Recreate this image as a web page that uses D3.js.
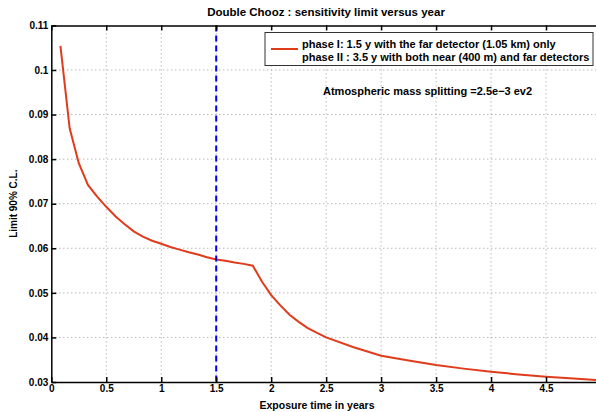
<!DOCTYPE html>
<html lang="en">
<head>
<meta charset="UTF-8">
<title>Double Chooz sensitivity</title>
<script src="https://cdn.jsdelivr.net/npm/d3@7/dist/d3.min.js"></script>
<style>
  body { margin: 0; background: #fff; }
  svg { display: block; font-family: "Liberation Sans", Arial, sans-serif; }
</style>
</head>
<body>
<svg width="596" height="412" id="mainsvg"></svg>
<script>
// values
const years = [0.083, 0.167, 0.25, 0.333, 0.417, 0.5, 0.583, 0.667, 0.75, 0.833, 0.917, 1.0,
  1.083, 1.167, 1.25, 1.333, 1.417, 1.5, 1.583, 1.667, 1.75, 1.833,
  1.917, 2.0, 2.083, 2.167, 2.25, 2.333, 2.417, 2.5,
  2.75, 3.0, 3.25, 3.5, 3.75, 4.0, 4.25, 4.5, 4.75, 5.0];
const limit = [0.1054, 0.0869, 0.0791, 0.0742, 0.0716, 0.0693, 0.0672, 0.0654, 0.0638, 0.0626, 0.0617, 0.0610,
  0.0603, 0.0597, 0.0591, 0.0586, 0.0580, 0.0575, 0.0572, 0.0568, 0.0565, 0.0561,
  0.0525, 0.0495, 0.0472, 0.0451, 0.0435, 0.0421, 0.0410, 0.0400,
  0.0378, 0.0359, 0.0348, 0.0338, 0.0330, 0.0323, 0.0317, 0.0312, 0.0308, 0.0304];
const xTicks = [0, 0.5, 1, 1.5, 2, 2.5, 3, 3.5, 4, 4.5];
const xTickLabels = ['0', '0.5', '1', '1.5', '2', '2.5', '3', '3.5', '4', '4.5'];
const yTicks = [0.03, 0.04, 0.05, 0.06, 0.07, 0.08, 0.09, 0.1, 0.11];
const yTickLabels = ['0.03', '0.04', '0.05', '0.06', '0.07', '0.08', '0.09', '0.1', '0.11'];
const phaseSplit = 1.5;
const legendLines = ['phase I: 1.5 y with the far detector (1.05 km) only',
  'phase II : 3.5 y with both near (400 m) and far detectors'];

const svg = d3.select('#mainsvg');
const pLeft = 51.3, pRight = 601, pTop = 25.4, pBottom = 382;

const x = d3.scaleLinear().domain([0, 5]).range([pLeft, pRight]);
const y = d3.scaleLinear().domain([0.03, 0.11]).range([pBottom, pTop]);

svg.append('clipPath').attr('id', 'plotclip')
  .append('rect').attr('x', pLeft).attr('y', pTop).attr('width', pRight - pLeft).attr('height', pBottom - pTop);

// grid
const grid = svg.append('g').attr('stroke', '#999').attr('stroke-width', 1).attr('stroke-dasharray', '1,3');
grid.selectAll('.gx').data(xTicks.slice(1)).join('line')
  .attr('x1', d => x(d)).attr('x2', d => x(d)).attr('y1', pTop).attr('y2', pBottom);
grid.selectAll('.gy').data(yTicks.slice(1, -1)).join('line')
  .attr('x1', pLeft).attr('x2', pRight).attr('y1', d => y(d)).attr('y2', d => y(d));

// curve
const line = d3.line().x(d => x(d[0])).y(d => y(d[1]));
svg.append('path').datum(d3.zip(years, limit))
  .attr('clip-path', 'url(#plotclip)')
  .attr('d', line).attr('fill', 'none').attr('stroke', '#e03c1c').attr('stroke-width', 2);

// phase separator
svg.append('line').attr('x1', x(phaseSplit)).attr('x2', x(phaseSplit)).attr('y1', pTop).attr('y2', pBottom)
  .attr('stroke', '#0000ee').attr('stroke-width', 2).attr('stroke-dasharray', '6,4');

// axes
const fmtX = (d, i) => xTickLabels[i];
const fmtY = (d, i) => yTickLabels[i];
svg.append('g').attr('transform', `translate(0,${pBottom})`)
  .call(d3.axisBottom(x).tickValues(xTicks).tickFormat(fmtX).tickSizeInner(-5).tickSizeOuter(0).tickPadding(3));
svg.append('g').attr('transform', `translate(0,${pTop})`)
  .call(d3.axisTop(x).tickValues(xTicks).tickFormat('').tickSizeInner(-5).tickSizeOuter(0));
svg.append('g').attr('transform', `translate(${pLeft},0)`)
  .call(d3.axisLeft(y).tickValues(yTicks).tickFormat(fmtY).tickSizeInner(-5).tickSizeOuter(0).tickPadding(3));
svg.append('g').attr('transform', `translate(${pRight},0)`)
  .call(d3.axisRight(y).tickValues(yTicks).tickFormat('').tickSizeInner(-5).tickSizeOuter(0));
svg.selectAll('.domain').attr('stroke', '#000').attr('stroke-width', 1.5);
svg.selectAll('.tick line').attr('stroke', '#000').attr('stroke-width', 1.5);
svg.selectAll('.tick text').attr('font-size', 10).attr('font-weight', 'bold').attr('fill', '#000')
  .attr('font-family', '"Liberation Sans", Arial, sans-serif');

// legend
const lg = svg.append('g');
lg.append('rect').attr('x', 265).attr('y', 32.5).attr('width', 328).attr('height', 33)
  .attr('fill', '#fff').attr('stroke', '#333').attr('stroke-width', 1);
lg.append('line').attr('x1', 271).attr('x2', 298).attr('y1', 49).attr('y2', 49)
  .attr('stroke', '#e03c1c').attr('stroke-width', 2);
lg.selectAll('text').data(legendLines).join('text')
  .attr('x', 302).attr('y', (d, i) => 48 + i * 12.5)
  .attr('font-size', 11).attr('font-weight', 'bold').text(d => d);

svg.append('text').attr('x', 323).attr('y', 95).attr('font-size', 11).attr('font-weight', 'bold')
  .text('Atmospheric mass splitting =2.5e\u22123 ev2');

// titles
svg.append('text').attr('x', 326).attr('y', 16).attr('text-anchor', 'middle')
  .attr('font-size', 11.5).attr('font-weight', 'bold').text('Double Chooz : sensitivity limit versus year');
svg.append('text').attr('x', 317).attr('y', 409).attr('text-anchor', 'middle')
  .attr('font-size', 10.5).attr('font-weight', 'bold').text('Exposure time in years');
svg.append('text').attr('transform', `translate(17,${(pTop + pBottom) / 2}) rotate(-90)`).attr('text-anchor', 'middle')
  .attr('font-size', 10).attr('font-weight', 'bold').text('Limit 90% C.L.');
</script>
</body>
</html>
